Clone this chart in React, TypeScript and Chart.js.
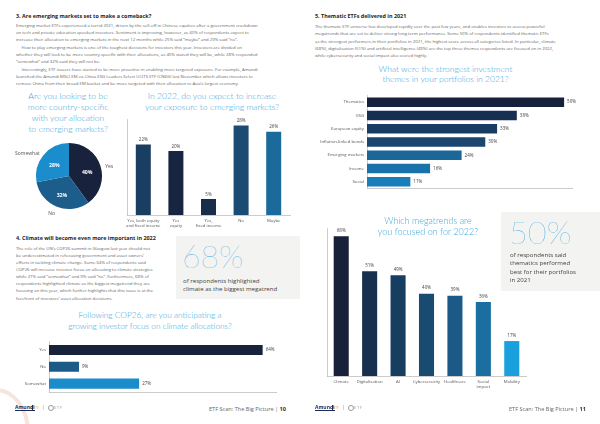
import React, { useEffect, useRef } from "react";
import { Chart, registerables } from "chart.js";
Chart.register(...registerables);

const FONT = '"Open Sans", "DejaVu Sans", sans-serif';
const TITLE_FONT = 'Lato, "Open Sans", sans-serif';
const TITLE_BLUE = "#3aa6dc";
const AXIS = "#b4b4b4";
const LABEL = "#555";

// ---- Data ----
const pieCategories = ["Yes", "No", "Somewhat"];
const pieValues = [40, 32, 28];
const pieColors = ["#18223d", "#1c5d8c", "#1b8ccc"];

const emCategories = [["Yes, both equity", "and fixed income"], ["Yes", "equity"], ["Yes,", "fixed income"], "No", "Maybe"];
const emValues = [22, 20, 5, 28, 26];
const emColors = ["#1a3d62", "#172540", "#182d4c", "#1b4a73", "#1b6a9c"];

const climateCategories = ["Yes", "No", "Somewhat"];
const climateValues = [64, 9, 27];
const climateColors = ["#17223b", "#1c5a88", "#1a8bcb"];

const themeCategories = ["Thematics", "ESG", "European equity", "Inflation-linked bonds", "Emerging markets", "Income", "Social"];
const themeValues = [50, 38, 33, 30, 24, 16, 11];
const themeColors = ["#16213b", "#172f50", "#183d62", "#1a4670", "#1b6798", "#1a72aa", "#1a7eba"];

const megaCategories = ["Climate", "Digitalisation", "AI", "Cybersecurity", "Healthcare", ["Social", "impact"], "Mobility"];
const megaValues = [68, 51, 49, 40, 39, 36, 17];
const megaColors = ["#17223a", "#17304f", "#173d60", "#194b70", "#1b5a86", "#1a6fa0", "#1aa0dd"];

// ---- Text ----
const P3 = [
  "Emerging market ETFs experienced a torrid 2021, driven by the sell-off in Chinese equities after a government crackdown",
  "on tech and private education spooked investors. Sentiment is improving, however, as 40% of respondents expect to",
  "increase their allocation to emerging markets in the next 12 months while 25% said \u201cmaybe\u201d and 29% said \u201cno\u201d.",
  "How to play emerging markets is one of the toughest decisions for investors this year. Investors are divided on",
  "whether they will look to be more country-specific with their allocations, as 40% stated they will be, while 28% responded",
  "\u201csomewhat\u201d and 32% said they will not be.",
  "Interestingly, ETF issuers have started to be more proactive in enabling more targeted exposure. For example, Amundi",
  "launched the Amundi MSCI EM ex-China ESG Leaders Select UCITS ETF (CN6G) last November which allows investors to",
  "remove China from their broad EM bucket and be more targeted with their allocation to Asia\u2019s largest economy.",
];
const P3_INDENT = [3, 6];
const P4 = [
  "The role of the UN\u2019s COP26 summit in Glasgow last year should not",
  "be underestimated in refocusing government and asset owners\u2019",
  "efforts in tackling climate change. Some 64% of respondents said",
  "COP26 will increase investor focus on allocating to climate strategies",
  "while 27% said \u201csomewhat\u201d and 9% said \u201cno\u201d. Furthermore, 68% of",
  "respondents highlighted climate as the biggest megatrend they are",
  "focusing on this year, which further highlights that this issue is at the",
  "forefront of investors\u2019 asset allocation decisions.",
];
const P5 = [
  "The thematic ETF universe has developed rapidly over the past few years, and enables investors to access powerful",
  "megatrends that are set to deliver strong long-term performance. Some 50% of respondents identified thematic ETFs",
  "as the strongest performers in their portfolios in 2021, the highest score across all categories listed. In particular, climate",
  "(68%), digitalisation (51%) and artificial intelligence (49%) are the top three themes respondents are focused on in 2022,",
  "while cybersecurity and social impact also scored highly.",
];

// ---- Plugins ----
function valueLabels(horizontal: boolean, offset: number, size: number) {
  return {
    id: "valueLabels",
    afterDatasetsDraw(chart: any) {
      const ctx = chart.ctx;
      const meta = chart.getDatasetMeta(0);
      const data = chart.data.datasets[0].data;
      ctx.save();
      ctx.font = `400 ${size}px ${FONT}`;
      ctx.fillStyle = "#444";
      meta.data.forEach((el: any, i: number) => {
        const t = data[i] + "%";
        if (horizontal) {
          ctx.textAlign = "left";
          ctx.textBaseline = "middle";
          ctx.fillText(t, el.x + offset, el.y);
        } else {
          ctx.textAlign = "center";
          ctx.textBaseline = "bottom";
          ctx.fillText(t, el.x, el.y - offset);
        }
      });
      ctx.restore();
    },
  };
}

const pieLabels = {
  id: "pieLabels",
  afterDatasetsDraw(chart: any) {
    const ctx = chart.ctx;
    const meta = chart.getDatasetMeta(0);
    const data = chart.data.datasets[0].data;
    const labels = chart.data.labels;
    ctx.save();
    meta.data.forEach((arc: any, i: number) => {
      const p = arc.getProps(["x", "y", "startAngle", "endAngle", "outerRadius"], true);
      const mid = (p.startAngle + p.endAngle) / 2;
      const c = Math.cos(mid);
      const s = Math.sin(mid);
      ctx.font = `700 5.2px ${FONT}`;
      ctx.fillStyle = "#ffffff";
      ctx.textAlign = "center";
      ctx.textBaseline = "middle";
      const ri = p.outerRadius * 0.58;
      ctx.fillText(data[i] + "%", p.x + c * ri, p.y + s * ri + 2);
      ctx.font = `400 5px ${FONT}`;
      ctx.fillStyle = LABEL;
      const ro = p.outerRadius + 5;
      ctx.textAlign = c > 0.2 ? "left" : c < -0.2 ? "right" : "center";
      ctx.fillText(labels[i], p.x + c * ro, p.y + s * ro + 2);
    });
    ctx.restore();
  },
};

// ---- Config builders ----
function verticalBar(o: any) {
  return {
    type: "bar",
    data: {
      labels: o.labels,
      datasets: [{ data: o.values, backgroundColor: o.colors, borderWidth: 0, barPercentage: o.barPct, categoryPercentage: 1 }],
    },
    options: {
      responsive: false,
      animation: false,
      layout: { padding: o.pad },
      plugins: { legend: { display: false }, tooltip: { enabled: false } },
      scales: {
        x: {
          grid: { display: false, drawTicks: false },
          border: { display: true, color: AXIS, width: 0.7 },
          ticks: { font: { family: FONT, size: 4.3 }, color: LABEL, padding: 3, maxRotation: 0, autoSkip: false },
          afterFit: (s: any) => { s.height = o.xHeight; },
        },
        y: {
          min: 0,
          max: o.max,
          grid: { display: false, drawTicks: false },
          border: { display: true, color: AXIS, width: 0.7 },
          ticks: { display: false },
          afterFit: (s: any) => { s.width = 0; },
        },
      },
    },
    plugins: [valueLabels(false, o.labelOffset, 4.5)],
  };
}

function horizontalBar(o: any) {
  return {
    type: "bar",
    data: {
      labels: o.labels,
      datasets: [{ data: o.values, backgroundColor: o.colors, borderWidth: 0, barPercentage: o.barPct, categoryPercentage: 1 }],
    },
    options: {
      indexAxis: "y",
      responsive: false,
      animation: false,
      layout: { padding: o.pad },
      plugins: { legend: { display: false }, tooltip: { enabled: false } },
      scales: {
        y: {
          grid: { display: false, drawTicks: false },
          border: { display: true, color: AXIS, width: 0.7 },
          ticks: { font: { family: FONT, size: 4.3 }, color: LABEL, padding: 3, autoSkip: false },
          afterFit: (s: any) => { s.width = o.yWidth; },
        },
        x: {
          min: 0,
          max: o.max,
          grid: { display: false, drawTicks: false },
          border: { display: true, color: AXIS, width: 0.7 },
          ticks: { display: false },
          afterFit: (s: any) => { s.height = 0; },
        },
      },
    },
    plugins: [valueLabels(true, 3, 4.5)],
  };
}

function pieConfig() {
  return {
    type: "pie",
    data: { labels: pieCategories, datasets: [{ data: pieValues, backgroundColor: pieColors, borderWidth: 0 }] },
    options: {
      responsive: false,
      animation: false,
      layout: { padding: { left: 36, right: 24, top: 14, bottom: 12 } },
      plugins: { legend: { display: false }, tooltip: { enabled: false } },
    },
    plugins: [pieLabels],
  };
}

// ---- Components ----
function ChartBox({ left, top, width, height, make }: any) {
  const ref = useRef<HTMLCanvasElement>(null);
  useEffect(() => {
    const chart = new Chart(ref.current as any, make());
    return () => chart.destroy();
  }, []);
  return (
    <div style={{ position: "absolute", left, top, width, height }}>
      <canvas ref={ref} width={width} height={height} style={{ width, height, display: "block" }} />
    </div>
  );
}

function Line({ x, y, size, children, style }: any) {
  const lh = size * 1.3;
  return (
    <div style={{ position: "absolute", left: x, top: y - lh / 2, fontSize: size, lineHeight: lh + "px", whiteSpace: "nowrap", ...style }}>
      {children}
    </div>
  );
}

function Centered({ cx, y0, step, size, lines }: any) {
  return (
    <>
      {lines.map((l: string, i: number) => {
        const lh = size * 1.3;
        return (
          <div
            key={i}
            style={{
              position: "absolute", left: cx - 150, width: 300, top: y0 + i * step - lh / 2, textAlign: "center",
              fontFamily: TITLE_FONT, fontWeight: 300, fontSize: size, lineHeight: lh + "px", color: TITLE_BLUE, whiteSpace: "nowrap",
            }}
          >
            {l}
          </div>
        );
      })}
    </>
  );
}

function Para({ x, y0, step, size, lines, indent = [] }: any) {
  return (
    <>
      {lines.map((l: string, i: number) => (
        <Line key={i} x={x + (indent.includes(i) ? 5.5 : 0)} y={y0 + i * step} size={size} style={{ fontFamily: FONT, color: "#666" }}>
          {l}
        </Line>
      ))}
    </>
  );
}

function Footer({ x, rightX, page }: any) {
  return (
    <>
      <div style={{ position: "absolute", left: x, top: 404, fontFamily: FONT, fontSize: 5, fontWeight: 700, color: "#1c2b5a", lineHeight: "6px", whiteSpace: "nowrap", borderBottom: "0.8px solid #1c2b5a" }}>
        Amundi
      </div>
      <div style={{ position: "absolute", left: x + 17, top: 405, width: 1, height: 6, background: "#1c2b5a" }} />
      <div style={{ position: "absolute", left: x + 19, top: 405.5, fontFamily: FONT, fontSize: 3, color: "#e3a33a", lineHeight: "5px", whiteSpace: "nowrap" }}>
        ETF
      </div>
      <div style={{ position: "absolute", left: x + 27, top: 404, fontFamily: FONT, fontSize: 5, color: "#888", lineHeight: "6px" }}>|</div>
      <div style={{ position: "absolute", left: x + 33, top: 405, width: 4, height: 4, borderRadius: "50%", border: "0.8px solid #999" }} />
      <div style={{ position: "absolute", left: x + 39, top: 404.5, fontFamily: FONT, fontSize: 4, color: "#999", lineHeight: "6px", letterSpacing: 0.8 }}>ETF</div>
      <div
        style={{
          position: "absolute", left: rightX - 150, width: 150, top: 405.5, textAlign: "right", fontFamily: FONT,
          fontSize: 5.6, color: "#666", lineHeight: "7px", whiteSpace: "nowrap",
        }}
      >
        ETF Scan: The Big Picture | <b style={{ color: "#333" }}>{page}</b>
      </div>
    </>
  );
}

export default function App() {
  return (
    <div style={{ position: "absolute", left: 0, top: 0, width: 600, height: 424, overflow: "hidden", background: "#fff" }}>
      {/* decorative swirl */}
      <div style={{ position: "absolute", left: -38, top: 388, width: 60, height: 80, borderRadius: "50%", border: "4px solid #f6dcd4", opacity: 0.8 }} />

      {/* Left page */}
      <Line x={16} y={17} size={5.4} style={{ fontFamily: FONT, fontWeight: 700, color: "#1d1d1d" }}>
        3. Are emerging markets set to make a comeback?
      </Line>
      <Para x={16} y0={25.6} step={7.3} size={4.3} lines={P3} indent={P3_INDENT} />

      <Centered cx={68} y0={96.8} step={10.9} size={8.6} lines={["Are you looking to be", "more country-specific", "with your allocation", "to emerging markets?"]} />
      <Centered cx={212} y0={97} step={11} size={8.6} lines={["In 2022, do you expect to increase", "your exposure to emerging markets?"]} />

      <ChartBox left={0} top={128} width={126} height={94} make={pieConfig} />
      <ChartBox
        left={122}
        top={110}
        width={172}
        height={122}
        make={() => verticalBar({ labels: emCategories, values: emValues, colors: emColors, max: 30, pad: { left: 5, right: 4, top: 9, bottom: 0 }, xHeight: 17, barPct: 0.46, labelOffset: 2.5 })}
      />

      <Line x={16} y={238.3} size={5.4} style={{ fontFamily: FONT, fontWeight: 700, color: "#1d1d1d" }}>
        4. Climate will become even more important in 2022
      </Line>
      <Para x={16} y0={248.3} step={7.15} size={4.3} lines={P4} />

      <div style={{ position: "absolute", left: 176, top: 236, width: 124, height: 63, background: "#f3f3f1" }} />
      <div style={{ position: "absolute", left: 182, top: 239.5, fontFamily: TITLE_FONT, fontWeight: 100, fontSize: 32, lineHeight: "32px", color: TITLE_BLUE, whiteSpace: "nowrap" }}>
        68%
      </div>
      <Line x={183} y={280.7} size={6.1} style={{ fontFamily: FONT, color: "#444" }}>of respondents highlighted</Line>
      <Line x={183} y={289.3} size={6.1} style={{ fontFamily: FONT, color: "#444" }}>climate as the biggest megatrend</Line>

      <Centered cx={150} y0={315.7} step={10.2} size={8.3} lines={["Following COP26, are you anticipating a", "growing investor focus on climate allocations?"]} />
      <ChartBox
        left={0}
        top={336}
        width={300}
        height={62}
        make={() => horizontalBar({ labels: climateCategories, values: climateValues, colors: climateColors, max: 68, yWidth: 49, pad: { left: 0, right: 24, top: 5, bottom: 6 }, barPct: 0.6 })}
      />
      <Footer x={15} rightX={286} page="10" />

      {/* Right page */}
      <Line x={315} y={17} size={5.4} style={{ fontFamily: FONT, fontWeight: 700, color: "#1d1d1d" }}>
        5. Thematic ETFs delivered in 2021
      </Line>
      <Para x={315} y0={26.7} step={7.35} size={4.3} lines={P5} />

      <Centered cx={445.5} y0={69.3} step={10.3} size={8.5} lines={["What were the strongest investment", "themes in your portfolios in 2021?"]} />
      <ChartBox
        left={300}
        top={90}
        width={290}
        height={104}
        make={() => horizontalBar({ labels: themeCategories, values: themeValues, colors: themeColors, max: 52, yWidth: 67, pad: { left: 0, right: 18, top: 3, bottom: 3 }, barPct: 0.71 })}
      />

      <Centered cx={428} y0={220.7} step={11.6} size={9} lines={["Which megatrends are", "you focused on for 2022?"]} />
      <div style={{ position: "absolute", left: 501, top: 212, width: 99, height: 79, background: "#f3f3f1" }} />
      <div style={{ position: "absolute", left: 509, top: 216.2, fontFamily: TITLE_FONT, fontWeight: 100, fontSize: 32.5, lineHeight: "32.5px", color: TITLE_BLUE, whiteSpace: "nowrap" }}>
        50%
      </div>
      {["of respondents said", "thematics performed", "best for their portfolios", "in 2021"].map((t, i) => (
        <Line key={i} x={510} y={255 + i * 8.3} size={6.1} style={{ fontFamily: FONT, color: "#444" }}>{t}</Line>
      ))}

      <ChartBox
        left={315}
        top={218}
        width={215}
        height={176}
        make={() => verticalBar({ labels: megaCategories, values: megaValues, colors: megaColors, max: 72, pad: { left: 12, right: 4, top: 10, bottom: 0 }, xHeight: 18, barPct: 0.53, labelOffset: 3.5 })}
      />
      <Footer x={315} rightX={586} page="11" />
    </div>
  );
}
